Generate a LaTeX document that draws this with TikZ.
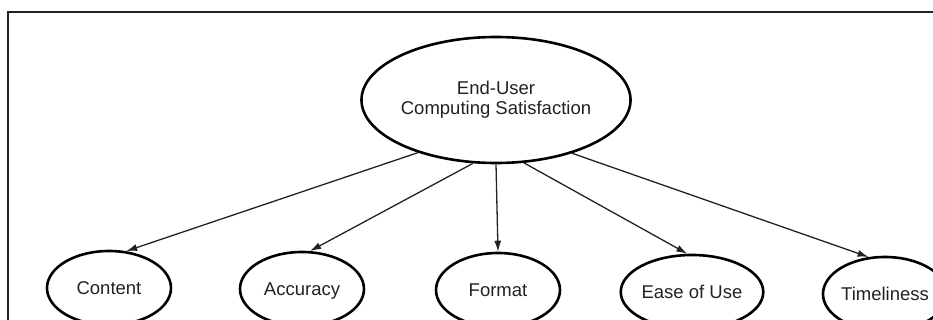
\documentclass[tikz,border=0pt]{standalone}
\usepackage{fontspec}
\setmainfont{Liberation Sans}
\usetikzlibrary{shapes.geometric,arrows.meta}
\definecolor{ink}{HTML}{222222}
\begin{document}
\begin{tikzpicture}[x=1pt,y=-1pt,
  ell/.style={ellipse,draw=black,line width=2.6pt,inner sep=0pt,text=ink,
    font=\fontsize{18.5}{21.5}\selectfont},
  bigell/.style={ell,minimum width=260pt,minimum height=126pt,align=center},
  smallell/.style={ell,minimum width=124pt,minimum height=74pt,text height=13.3pt,text depth=0pt},
  conn/.style={draw=ink,line width=1.3pt,-{Latex[length=11pt,width=7pt]}},
  frame/.style={draw=ink,line width=2pt}]
\useasboundingbox (0,0) rectangle (933,320);
\clip (0,0) rectangle (933,320);
\draw[frame] (8,340) -- (8,12) -- (950,12);
\node[bigell] (top) at (496,100) {\raisebox{4pt}{\begin{tabular}{@{}c@{}}End-User\\[-1pt]Computing Satisfaction\end{tabular}}};
\node[smallell] (content) at (109,288) {Content};
\node[smallell] (accuracy) at (302,289) {Accuracy};
\node[smallell] (format) at (498,290) {Format};
\node[smallell] (ease) at (692,292) {Ease of Use};
\node[smallell] (time) at (885,294) {Timeliness};
\draw[conn] (top.214) -- (content.65);
\draw[conn] (top.250) -- (accuracy.78);
\draw[conn] (top.270) -- (format.90);
\draw[conn] (top.294) -- (ease.97);
\draw[conn] (top.325) -- (time.114);
\end{tikzpicture}
\end{document}
